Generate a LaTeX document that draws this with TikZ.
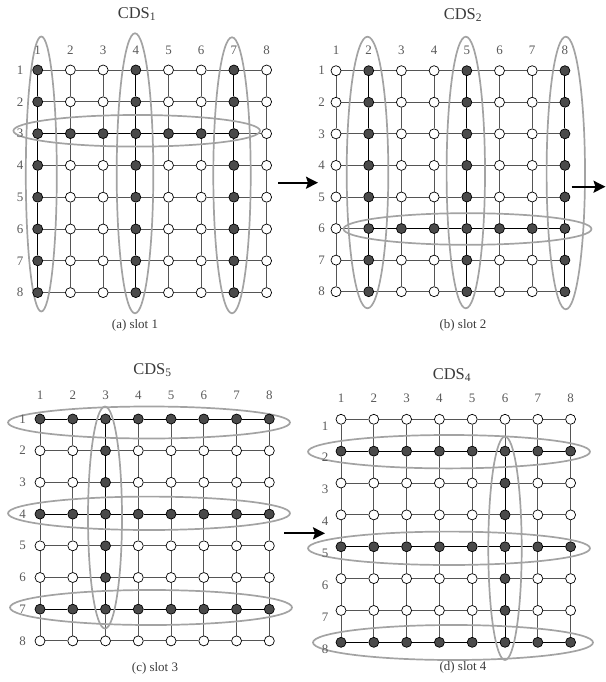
\documentclass[tikz,border=0pt]{standalone}
\usepackage{fontspec}
\setmainfont{Liberation Serif}
\usetikzlibrary{arrows.meta}
\pgfdeclarelayer{edgelayer}
\pgfdeclarelayer{ringlayer}
\pgfsetlayers{edgelayer,ringlayer,main}
\definecolor{edgegray}{HTML}{555555}
\definecolor{ringgray}{HTML}{A3A3A3}
\definecolor{darknode}{HTML}{4A4A4A}
\definecolor{labelgray}{HTML}{5A5A5A}
\definecolor{textgray}{HTML}{3A3A3A}
\tikzset{
  onode/.style={circle, draw=black, line width=0.7bp, fill=white, minimum size=10bp, inner sep=0pt},
  dnode/.style={onode, fill=darknode},
  gedge/.style={draw=edgegray, line width=0.9bp},
  cdsedge/.style={draw=black, line width=0.9bp},
  ringline/.style={draw=ringgray, line width=1.7bp},
  idxtxt/.style={text=labelgray, font=\fontsize{13}{13}\selectfont, inner sep=0pt},
  ttltxt/.style={text=textgray, font=\fontsize{16.5}{16.5}\selectfont, inner sep=0pt},
  captxt/.style={text=textgray, font=\fontsize{13}{13}\selectfont, inner sep=0pt},
  flowarrow/.style={-{Stealth[length=12bp,width=12bp,inset=2bp]}, line width=1.8bp, draw=black},
}
% #1 panel name, #2 pgfmath condition (in \ri, \ci) for a CDS (dark) node
\newcommand\gridpanel[2]{%
  \foreach \ri in {1,...,8}{
    \foreach \ci in {1,...,8}{
      \pgfmathtruncatemacro\isdark{#2}
      \expandafter\xdef\csname dk-#1-\ri-\ci\endcsname{\isdark}
      \ifnum\isdark=1
        \node[dnode] (#1-\ri-\ci) at ({\px+(\ci-1)*\pdx},{\py+(\ri-1)*\pdy}) {};
      \else
        \node[onode] (#1-\ri-\ci) at ({\px+(\ci-1)*\pdx},{\py+(\ri-1)*\pdy}) {};
      \fi
    }
  }
  \foreach \ci in {1,...,8}{
    \node[idxtxt] (#1-cl-\ci) at ({\px+(\ci-1)*\pdx},{\py+\colly}) {\ci};
  }
  \foreach \ri in {1,...,8}{
    \node[idxtxt] (#1-rl-\ri) at ({\px+\rowlx},{\py+(\ri-1)*\pdy+\rowly}) {\ri};
  }
  \begin{pgfonlayer}{edgelayer}
    \foreach \ri in {1,...,8}{
      \foreach \ci [evaluate=\ci as \cn using int(\ci+1)] in {1,...,7}{
        \pgfmathtruncatemacro\both{\csname dk-#1-\ri-\ci\endcsname*\csname dk-#1-\ri-\cn\endcsname}
        \ifnum\both=1
          \draw[cdsedge] (#1-\ri-\ci) -- (#1-\ri-\cn);
        \else
          \draw[gedge] (#1-\ri-\ci) -- (#1-\ri-\cn);
        \fi
      }
    }
    \foreach \ci in {1,...,8}{
      \foreach \ri [evaluate=\ri as \rn using int(\ri+1)] in {1,...,7}{
        \pgfmathtruncatemacro\both{\csname dk-#1-\ri-\ci\endcsname*\csname dk-#1-\rn-\ci\endcsname}
        \ifnum\both=1
          \draw[cdsedge] (#1-\ri-\ci) -- (#1-\rn-\ci);
        \else
          \draw[gedge] (#1-\ri-\ci) -- (#1-\rn-\ci);
        \fi
      }
    }
  \end{pgfonlayer}
}
\begin{document}
\begin{tikzpicture}[x=1bp, y=-1bp]
\useasboundingbox (0,0) rectangle (606,682);

% ---------- (a) slot 1
\def\px{37.7}\def\py{70}\def\pdx{32.7}\def\pdy{31.8}
\def\colly{-20}\def\rowlx{-17.5}\def\rowly{0}
\gridpanel{a}{(\ci==1)||(\ci==4)||(\ci==7)||((\ri==3)&&(\ci<=7))}
\node[ttltxt] (a-title) at (137,14) {CDS\textsubscript{1}};
\node[captxt] (a-cap) at (135,325) {(a) slot 1};
\begin{pgfonlayer}{ringlayer}
  \draw[ringline] (41.3,174) ellipse [x radius=15.5bp, y radius=137.5bp];
  \draw[ringline] (135,173.3) ellipse [x radius=18.3bp, y radius=140bp];
  \draw[ringline] (232,175.3) ellipse [x radius=18.7bp, y radius=138bp];
  \draw[ringline] (136.7,130.8) ellipse [x radius=123.3bp, y radius=15.8bp];
\end{pgfonlayer}

% ---------- (b) slot 2
\def\px{336}\def\py{70.7}\def\pdx{32.7}\def\pdy{31.57}
\def\colly{-20.5}\def\rowlx{-14.3}\def\rowly{0}
\gridpanel{b}{(\ci==2)||(\ci==5)||(\ci==8)||((\ri==6)&&(\ci>=2))}
\node[ttltxt] (b-title) at (463,15) {CDS\textsubscript{2}};
\node[captxt] (b-cap) at (463,325) {(b) slot 2};
\begin{pgfonlayer}{ringlayer}
  \draw[ringline] (367.5,172.5) ellipse [x radius=20.8bp, y radius=135.8bp];
  \draw[ringline] (465.8,172.5) ellipse [x radius=19.2bp, y radius=135.8bp];
  \draw[ringline] (565.8,173) ellipse [x radius=19.2bp, y radius=136.3bp];
  \draw[ringline] (467.5,229) ellipse [x radius=124bp, y radius=15.8bp];
\end{pgfonlayer}

% ---------- (c) slot 3
\def\px{40}\def\py{419}\def\pdx{32.76}\def\pdy{31.7}
\def\colly{-24}\def\rowlx{-17.3}\def\rowly{0}
\gridpanel{c}{(\ri==1)||(\ri==4)||(\ri==7)||((\ci==3)&&(\ri<=7))}
\node[ttltxt] (c-title) at (152.5,370) {CDS\textsubscript{5}};
\node[captxt] (c-cap) at (155,668) {(c) slot 3};
\begin{pgfonlayer}{ringlayer}
  \draw[ringline] (149,422.5) ellipse [x radius=141bp, y radius=16bp];
  \draw[ringline] (149,513.3) ellipse [x radius=141bp, y radius=16.7bp];
  \draw[ringline] (151,607.5) ellipse [x radius=141bp, y radius=17.5bp];
  \draw[ringline] (105,517.5) ellipse [x radius=17bp, y radius=111bp];
\end{pgfonlayer}

% ---------- (d) slot 4
\def\px{341}\def\py{419.3}\def\pdx{32.8}\def\pdy{31.86}
\def\colly{-21}\def\rowlx{-16}\def\rowly{6.5}
\gridpanel{d}{(\ri==2)||(\ri==5)||(\ri==8)||((\ci==6)&&(\ri>=2))}
\node[ttltxt] (d-title) at (452,375) {CDS\textsubscript{4}};
\node[captxt] (d-cap) at (463,667) {(d) slot 4};
\begin{pgfonlayer}{ringlayer}
  \draw[ringline] (449,451.7) ellipse [x radius=141bp, y radius=16.7bp];
  \draw[ringline] (449,548.3) ellipse [x radius=141bp, y radius=16.7bp];
  \draw[ringline] (453,642.5) ellipse [x radius=140bp, y radius=17.5bp];
  \draw[ringline] (505,548.3) ellipse [x radius=16.7bp, y radius=111.7bp];
\end{pgfonlayer}

% ---------- flow arrows
\coordinate (ab-s) at (278,182.7);
\coordinate (ab-e) at (318,182.7);
\coordinate (bx-s) at (571.7,186.7);
\coordinate (bx-e) at (605.5,186.7);
\coordinate (cd-s) at (284,533.3);
\coordinate (cd-e) at (325,533.3);
\draw[flowarrow] (ab-s) -- (ab-e);
\draw[flowarrow] (bx-s) -- (bx-e);
\draw[flowarrow] (cd-s) -- (cd-e);
\end{tikzpicture}
\end{document}
